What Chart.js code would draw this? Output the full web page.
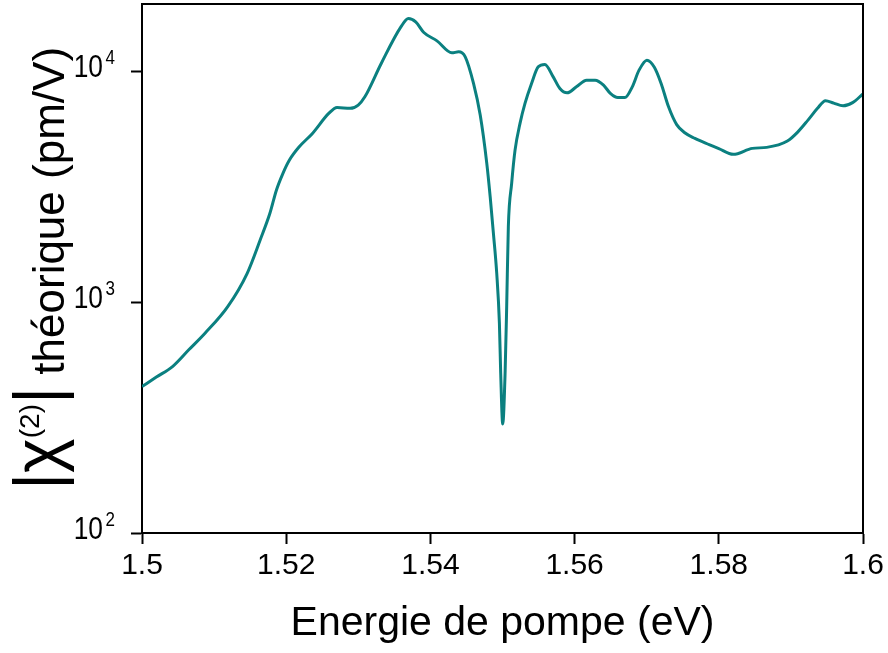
<!DOCTYPE html>
<html>
<head>
<meta charset="utf-8">
<script src="https://cdn.jsdelivr.net/npm/chart.js@4.4.1/dist/chart.umd.min.js"></script>
<style>
  body { margin: 0; background: #fff; }
  #wrap { width: 888px; height: 653px; position: relative; }
</style>
</head>
<body>
<div id="wrap"><canvas id="myChart"></canvas></div>
<script>
// photon energy (eV) and |chi(2)| (pm/V)
var energy = [1.5, 1.50199, 1.50423, 1.50649, 1.50874, 1.51189, 1.51459, 1.51639, 1.51774, 1.51865, 1.51955,
  1.52045, 1.52181, 1.52364, 1.5259, 1.52705, 1.52886, 1.52999, 1.53091, 1.53318, 1.53591,
  1.53695, 1.53796, 1.53909, 1.54091, 1.54298, 1.54391, 1.54483, 1.54598, 1.54691, 1.54782,
  1.54829, 1.54874, 1.5492, 1.54957, 1.54975, 1.55003, 1.55036, 1.55058, 1.55081, 1.55127,
  1.55174, 1.55243, 1.55312, 1.55403, 1.55496, 1.55588, 1.55703, 1.55796, 1.55896, 1.56025,
  1.56166, 1.56285, 1.56401, 1.56496, 1.56599, 1.56697, 1.568, 1.56894, 1.57003, 1.57106,
  1.572, 1.57303, 1.57416, 1.57528, 1.57669, 1.57866, 1.58, 1.582, 1.58465, 1.58665,
  1.58951, 1.59094, 1.59237, 1.59366, 1.5948, 1.59594, 1.59723, 1.59856, 1.6];
var chi2 = [431, 474, 526, 622, 734, 957, 1335, 1861, 2428, 3064, 3618,
  4130, 4716, 5390, 6578, 6985, 6918, 7147, 7762, 10830, 15600,
  16960, 16400, 14750, 13570, 12040, 12160, 11570, 8873, 6470, 3997,
  2865, 1989, 1335, 811, 493, 297, 493, 957, 2125, 3274,
  4563, 5955, 7270, 8873, 10470, 10730, 9476, 8441, 8080, 8577,
  9169, 9169, 8724, 8032, 7702, 7702, 8577, 10130, 11190, 10430,
  8873, 7028, 5884, 5423, 5129, 4821, 4632, 4373, 4641, 4688,
  4993, 5461, 6154, 6902, 7474, 7290, 7098, 7328, 7992];
var yTicks = [100, 1000, 10000];
var xTitle = "Energie de pompe (eV)";

var fontName = "'Liberation Sans', Arial, sans-serif";

// frame on top/right, 10^n tick labels and the y title with superscript
var extras = {
  id: "extras",
  afterDraw: function (chart) {
    var ctx = chart.ctx;
    var a = chart.chartArea;
    var ys = chart.scales.y;
    ctx.save();
    ctx.strokeStyle = "#000";
    ctx.lineWidth = 2;
    ctx.beginPath();
    ctx.moveTo(a.left, a.top);
    ctx.lineTo(a.right, a.top);
    ctx.lineTo(a.right, a.bottom);
    ctx.stroke();

    ctx.fillStyle = "#000";
    yTicks.forEach(function (v) {
      var py = ys.getPixelForValue(v);
      var exp = Math.round(Math.log10(v));
      ctx.save();
      ctx.translate(103, py + 6);
      ctx.scale(0.85, 1);
      ctx.font = "31px " + fontName;
      ctx.textAlign = "right";
      ctx.textBaseline = "alphabetic";
      ctx.fillText("10", 0, 0);
      ctx.font = "20px " + fontName;
      ctx.textAlign = "left";
      ctx.fillText(String(exp), 3, -13);
      ctx.restore();
    });

    // y axis title
    var parts = [
      { t: "|\u03c7", size: 66, dy: -4 },
      { t: "(2)", size: 28, dy: -25 },
      { t: "|", size: 66, dy: -4 },
      { t: " th\u00e9orique (pm/V)", size: 44, dy: 0 }
    ];
    var total = 0;
    parts.forEach(function (p) {
      ctx.font = p.size + "px " + fontName;
      p.w = ctx.measureText(p.t).width;
      total += p.w;
    });
    var cy = (a.top + a.bottom) / 2;
    ctx.translate(64, cy);
    ctx.rotate(-Math.PI / 2);
    var u = -total / 2;
    ctx.textAlign = "left";
    ctx.textBaseline = "alphabetic";
    parts.forEach(function (p) {
      ctx.font = p.size + "px " + fontName;
      ctx.fillText(p.t, u, p.dy);
      u += p.w;
    });
    ctx.restore();
  }
};

new Chart("myChart", {
  type: "line",
  data: {
    datasets: [
      {
        data: energy.map(function (e, i) { return { x: e, y: chi2[i] }; }),
        borderColor: "#0b8080",
        borderWidth: 3,
        pointRadius: 0,
        cubicInterpolationMode: "monotone",
        fill: false,
      },
    ],
  },
  options: {
    responsive: true,
    maintainAspectRatio: false,
    animation: false,
    layout: { padding: { left: 0, right: 25, top: 4, bottom: 0 } },
    plugins: {
      legend: { display: false },
      tooltip: { enabled: false },
    },
    scales: {
      x: {
        type: "linear",
        min: 1.5,
        max: 1.6,
        afterFit: function (s) { s.height = 120; },
        ticks: {
          stepSize: 0.02,
          color: "#000",
          padding: 4,
          maxRotation: 0,
          font: { family: fontName, size: 30 },
          callback: function (v) { return String(+v.toFixed(2)); },
        },
        grid: {
          drawOnChartArea: false,
          drawTicks: true,
          tickLength: 11,
          tickWidth: 2,
          tickColor: "#000",
        },
        border: { display: true, color: "#000", width: 2 },
        title: {
          display: true,
          text: xTitle,
          color: "#000",
          font: { family: fontName, size: 41 },
          padding: { top: 0, bottom: 5 },
        },
      },
      y: {
        type: "logarithmic",
        min: 100,
        max: 19600,
        afterFit: function (s) { s.width = 142; },
        afterBuildTicks: function (s) {
          s.ticks = yTicks.map(function (v) { return { value: v, major: true }; });
        },
        ticks: { display: false },
        grid: {
          drawOnChartArea: false,
          drawTicks: true,
          tickLength: 11,
          tickWidth: 2,
          tickColor: "#000",
        },
        border: { display: true, color: "#000", width: 2 },
      },
    },
  },
  plugins: [extras],
});
</script>
</body>
</html>
